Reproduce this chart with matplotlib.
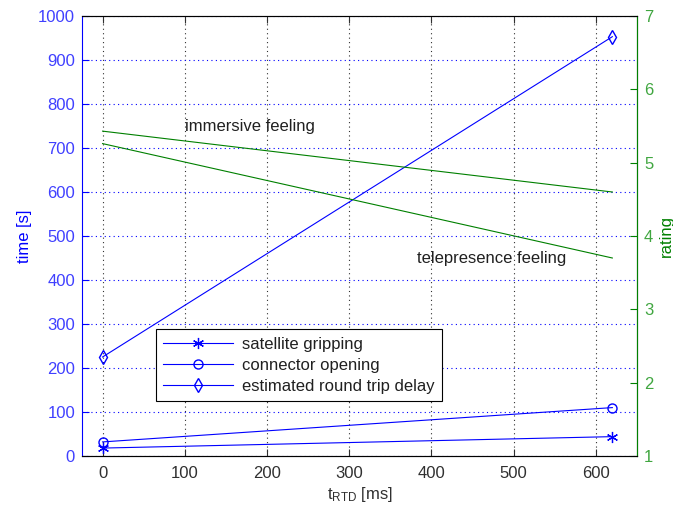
import matplotlib
matplotlib.use("Agg")
import matplotlib.pyplot as plt
import numpy as np

# data
t_rtd = [0, 620]
gripping = [18, 44]
connector = [32, 110]
round_trip = [225, 953]
immersive = [5.43, 4.6]
telepresence = [5.26, 3.7]

blue = (0, 0, 1)
green = (0, 0.5, 0)

plt.rcParams['font.family'] = ['Liberation Sans', 'DejaVu Sans']
plt.rcParams['font.size'] = 12

fig = plt.figure(figsize=(6.73, 5.12), dpi=100)
ax = fig.add_axes([82 / 673, 1 - 456 / 512, (637 - 82) / 673, (456 - 16) / 512])

ax.plot(t_rtd, gripping, color=blue, lw=0.8, marker=(6, 2, 0), ms=8, mew=0.9, label='satellite gripping')
ax.plot(t_rtd, connector, color=blue, lw=0.8, marker='o', ms=6.5, mfc='none', label='connector opening')
ax.plot(t_rtd, round_trip, color=blue, lw=0.8, marker='d', ms=7, mfc='none', label='estimated round trip delay')

ax.set_xlim(-25, 650)
ax.set_ylim(0, 1000)
ax.set_xticks(np.arange(0, 700, 100))
ax.set_yticks(np.arange(0, 1100, 100))
ax.tick_params(axis='y', colors=blue, direction='in', right=True, labelright=False, length=5, pad=5)
ax.tick_params(axis='x', direction='in', top=True, length=5, colors='#303030', pad=7)
ax.spines['left'].set_color(blue)
ax.spines['top'].set_color('#404040')
ax.spines['bottom'].set_color('#404040')
ax.xaxis.grid(True, color='#303030', linestyle=(0, (1, 3)), lw=0.8)
ax.yaxis.grid(True, color=blue, linestyle=(0, (1, 3)), lw=0.8)
ax.set_ylabel('time [s]', color=blue, labelpad=4)
ax.set_xlabel(r'$\mathregular{t_{RTD}}$ [ms]', color='#303030', labelpad=3)
for lab in ax.get_yticklabels():
    lab.set_color((0.25, 0.25, 1))

leg = ax.legend(loc='lower left', bbox_to_anchor=(0.133, 0.125), borderaxespad=0,
                fancybox=False, edgecolor='black', framealpha=1, handlelength=4.2,
                borderpad=0.45, labelspacing=0.35, handletextpad=0.5, fontsize=12)
leg.get_frame().set_linewidth(0.8)
for txt in leg.get_texts():
    txt.set_color('#202020')

ax2 = ax.twinx()
ax2.plot(t_rtd, immersive, color=green, lw=0.8)
ax2.plot(t_rtd, telepresence, color=green, lw=0.8)
ax2.set_ylim(1, 7)
ax2.set_yticks(np.arange(1, 8, 1))
ax2.tick_params(axis='y', colors=green, direction='in', length=5, pad=5)
ax2.spines['right'].set_color(green)
ax2.spines['left'].set_visible(False)
ax2.set_ylabel('rating', color=green, labelpad=4)
for lab in ax2.get_yticklabels():
    lab.set_color((0.25, 0.65, 0.25))

ax2.text(100, 5.5, 'immersive feeling', color='#202020', va='center', ha='left')
ax2.text(382, 3.69, 'telepresence feeling', color='#202020', va='center', ha='left')

fig.savefig('out.png', dpi=100)
